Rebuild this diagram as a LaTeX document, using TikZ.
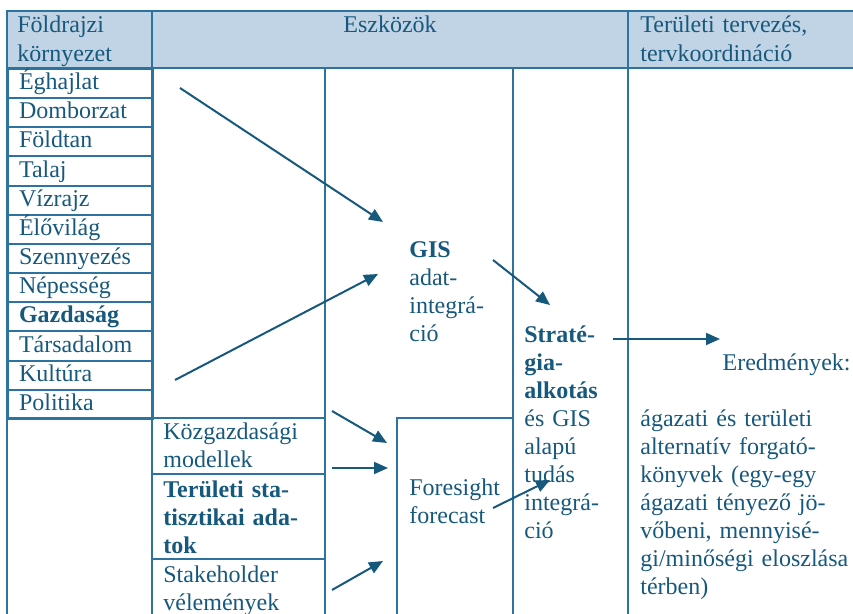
\documentclass[tikz,border=0pt]{standalone}
\usepackage{fontspec}
\setmainfont{Liberation Serif}
\usetikzlibrary{arrows.meta}
\definecolor{tabline}{HTML}{2C73A0}
\definecolor{headfill}{HTML}{C1D4E6}
\definecolor{inktext}{HTML}{17587D}

\begin{document}
\begin{tikzpicture}[x=0.5pt,y=-0.5pt,
        every node/.style={font=\fontsize{12}{14}\selectfont,text=inktext},
        cell/.style={draw=tabline,line width=1pt,anchor=north west,minimum height=14.58pt,text width=61.5pt,inner xsep=5.5pt,inner ysep=0pt,text height=9pt,text depth=3pt,align=left},
        txt/.style={anchor=base west,inner sep=0pt,text width=#1,align=left},
        txt/.default=100pt,
        rule/.style={draw=tabline,line width=1pt},
        flow/.style={draw=inktext,line width=1pt,-{Triangle[length=7pt,width=6pt]}}]
                \useasboundingbox (0,0) rectangle (853,614);
                % header
                \fill[headfill] (7,11) rectangle (860,68);
                \node[txt,font=\fontsize{12}{14.5}\selectfont] (geo) at (17,33) {Földrajzi\\környezet};
                \node[anchor=base,inner sep=0pt] (tools) at (390,33) {Eszközök};
                \node[txt,font=\fontsize{12}{14.5}\selectfont] (plan) at (640,33) {Területi tervezés,\\tervkoordináció};
                % grid
                \draw[rule] (860,11) -- (7,11) -- (7,620);
                \draw[rule] (7,68) -- (860,68);
                \draw[rule] (152,11) -- (152,620);
                \draw[rule] (325,68) -- (325,620);
                \draw[rule] (513,68) -- (513,620);
                \draw[rule] (628,11) -- (628,620);
                \draw[rule] (7,418) -- (325,418);
                \draw[rule] (152,474) -- (325,474);
                \draw[rule] (152,559) -- (325,559);
                \draw[rule] (397,620) -- (397,418) -- (513,418);
                % geographic factors
                \node[cell] (eghajlat) at (7,68) {Éghajlat};
                \node[cell] (domborzat) at (7,97.2) {Domborzat};
                \node[cell] (foldtan) at (7,126.3) {Földtan};
                \node[cell] (talaj) at (7,155.5) {Talaj};
                \node[cell] (vizrajz) at (7,184.7) {Vízrajz};
                \node[cell] (elovilag) at (7,213.8) {Élővilág};
                \node[cell] (szennyezes) at (7,243) {Szennyezés};
                \node[cell] (nepesseg) at (7,272.2) {Népesség};
                \node[cell,font=\fontsize{12}{14}\selectfont\bfseries] (gazdasag) at (7,301.3) {Gazdaság};
                \node[cell] (tarsadalom) at (7,330.5) {Társadalom};
                \node[cell] (kultura) at (7,359.7) {Kultúra};
                \node[cell] (politika) at (7,388.8) {Politika};
                % other sources
                \node[txt] (kozgazd) at (163,440) {Közgazdasági\\modellek};
                \node[txt,font=\fontsize{12}{14}\selectfont\bfseries] (statadat) at (163,498) {Területi sta-\\tisztikai ada-\\tok};
                \node[txt] (stakeholder) at (163,583) {Stakeholder\\vélemények};
                % tools
                \node[txt] (gis) at (409,258) {\textbf{GIS}\\adat-\\integrá-\\ció};
                \node[txt] (foresight) at (409,496) {Foresight\\forecast};
                \node[txt] (strategia) at (524,343) {\textbf{Straté-}\\\textbf{gia-}\\\textbf{alkotás}\\és GIS\\alapú\\tudás\\integrá-\\ció};
                % results
                \node[anchor=base east,inner sep=0pt] (eredmeny) at (851,371) {Eredmények:};
                \node[txt=130pt] (forgatokonyv) at (640,427) {ágazati és területi\\alternatív forgató-\\könyvek (egy-egy\\ágazati tényező jö-\\vőbeni, mennyisé-\\gi/minőségi eloszlása\\térben)};
                % arrows
                \coordinate (geo top) at (180,88);
                \coordinate (gis top) at (383,222);
                \coordinate (geo low) at (175,380);
                \coordinate (gis low) at (378,274);
                \coordinate (gis out) at (493,260);
                \coordinate (strat in) at (550,305);
                \coordinate (strat out) at (613,339);
                \coordinate (result in) at (720,339);
                \coordinate (kozg a) at (332,411);
                \coordinate (fore a) at (387,443);
                \coordinate (kozg b) at (332,468);
                \coordinate (fore b) at (388,468);
                \coordinate (stake) at (332,590);
                \coordinate (fore c) at (383,561);
                \coordinate (fore out) at (493,508);
                \coordinate (strat low) at (550,480);
                \draw[flow] (geo top) -- (gis top);
                \draw[flow] (geo low) -- (gis low);
                \draw[flow] (gis out) -- (strat in);
                \draw[flow] (strat out) -- (result in);
                \draw[flow] (kozg a) -- (fore a);
                \draw[flow] (kozg b) -- (fore b);
                \draw[flow] (stake) -- (fore c);
                \draw[flow] (fore out) -- (strat low);
            \end{tikzpicture}
\end{document}
